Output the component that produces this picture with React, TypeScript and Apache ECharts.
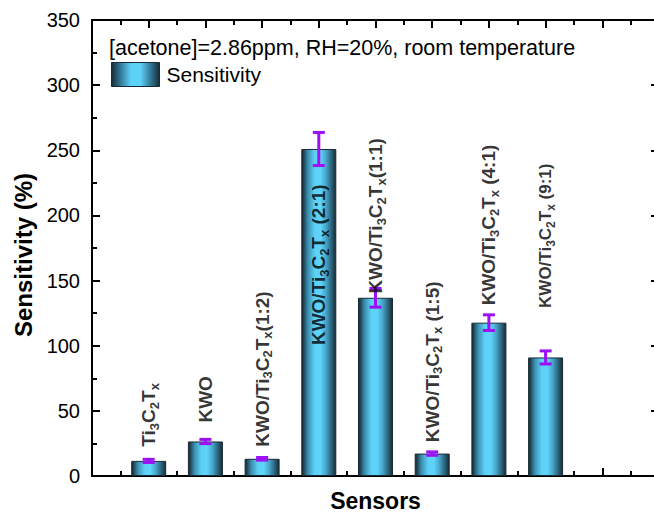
import React, { useEffect, useRef } from "react";
import * as echarts from "echarts";

// ---------- data ----------
const sensors = [
  "Ti3C2Tx",
  "KWO",
  "KWO/Ti3C2Tx(1:2)",
  "KWO/Ti3C2Tx (2:1)",
  "KWO/Ti3C2Tx(1:1)",
  "KWO/Ti3C2Tx (1:5)",
  "KWO/Ti3C2Tx (4:1)",
  "KWO/Ti3C2Tx (9:1)",
];
const sensitivity = [11.6, 26.5, 13.2, 251, 136.8, 17.2, 117.7, 91];
const sensitivityErr = [1.2, 1.6, 1.0, 12.7, 7.2, 1.3, 6.0, 5.0];
// where each rotated category label starts (value units)
const labelAnchors = [22.5, 41, 22.5, 100.5, 140, 26, 131, 129];
const yTicks = [0, 50, 100, 150, 200, 250, 300, 350];
const titleText = "[acetone]=2.86ppm, RH=20%, room temperature";
const seriesName = "Sensitivity";

const FONT = "'Liberation Sans', Arial, sans-serif";
const PURPLE = "#9b10f5";

// turn "KWO/Ti3C2Tx(1:2)" into rich text with subscripts
function toRich(label: string, m: string, s: string): string {
  const re = /(Ti)(3)(C)(2)(T)(x)/;
  const match = label.match(re);
  if (!match) return `{${m}|${label}}`;
  const idx = match.index as number;
  const before = label.slice(0, idx);
  const after = label.slice(idx + match[0].length);
  const parts: string[] = [];
  parts.push(`{${m}|${before}Ti}`);
  parts.push(`{${s}|3}`);
  parts.push(`{${m}|C}`);
  parts.push(`{${s}|2}`);
  parts.push(`{${m}|T}`);
  parts.push(`{${s}|x}`);
  if (after) parts.push(`{${m}|${after}}`);
  return parts.join("");
}

export default function App() {
  const ref = useRef<HTMLDivElement>(null);

  useEffect(() => {
    if (!ref.current) return;
    const chart = echarts.init(ref.current, null, { renderer: "svg" });

    const barGradient = new echarts.graphic.LinearGradient(1, 0, 0, 0, [
      { offset: 0, color: "#172a33" },
      { offset: 0.1, color: "#25576d" },
      { offset: 0.3, color: "#48a9cd" },
      { offset: 0.45, color: "#5fd3fa" },
      { offset: 0.62, color: "#5dd0f6" },
      { offset: 0.82, color: "#3b8fb0" },
      { offset: 0.95, color: "#1f4150" },
      { offset: 1, color: "#162831" },
    ]);
    const legendGradient = new echarts.graphic.LinearGradient(0, 0, 1, 0, [
      { offset: 0, color: "#172a33" },
      { offset: 0.15, color: "#2c6a85" },
      { offset: 0.4, color: "#5ccff6" },
      { offset: 0.6, color: "#5fd3fa" },
      { offset: 0.85, color: "#2c6a85" },
      { offset: 1, color: "#172a33" },
    ]);

    const barData = sensitivity.map((v, i) => [i + 1, v]);
    const errData = sensitivity.map((v, i) => [i + 1, v, sensitivityErr[i]]);
    const labelData = labelAnchors.map((v, i) => ({
      value: [i + 1, v],
      label: {
        formatter: i === 7 ? toRich(sensors[i], "m2", "s2") : toRich(sensors[i], "m", "s"),
      },
    }));

    const axisLine = { show: true, onZero: false, lineStyle: { color: "#000", width: 2 } };
    const tick = { show: true, inside: true, length: 8, lineStyle: { width: 2, color: "#000" } };
    const minor = { show: true, splitNumber: 2, length: 5, lineStyle: { width: 2, color: "#000" } };

    const option: any = {
      animation: false,
      backgroundColor: "#fff",
      title: {
        text: titleText,
        left: 109,
        top: 37,
        padding: 0,
        textStyle: {
          fontFamily: FONT,
          fontSize: 21.5,
          fontWeight: "normal",
          color: "#000",
        },
      },
      legend: {
        data: [
          {
            name: seriesName,
            icon: "rect",
            itemStyle: { color: legendGradient, borderColor: "#1a2a33", borderWidth: 1 },
          },
        ],
        left: 111,
        top: 62,
        padding: 0,
        itemWidth: 48,
        itemHeight: 24,
        textStyle: {
          fontFamily: FONT,
          fontSize: 21,
          color: "#000",
          padding: [0, 0, 0, 2],
        },
      },
      grid: {
        left: 92,
        top: 20,
        width: 567,
        height: 456,
        containLabel: false,
        outerBoundsMode: "none",
      },
      xAxis: [
        {
          type: "value",
          position: "bottom",
          min: 0,
          max: 10,
          interval: 1,
          name: "Sensors",
          nameLocation: "middle",
          nameGap: 14,
          nameTextStyle: {
            fontFamily: FONT,
            fontSize: 23,
            fontWeight: "bold",
            color: "#000",
            lineHeight: 22,
          },
          axisLine,
          axisTick: tick,
          minorTick: minor,
          axisLabel: { show: false },
          splitLine: { show: false },
          minorSplitLine: { show: false },
        },
        {
          type: "value",
          position: "top",
          min: 0,
          max: 10,
          interval: 1,
          axisLine,
          axisTick: tick,
          minorTick: minor,
          axisLabel: { show: false },
          splitLine: { show: false },
        },
      ],
      yAxis: [
        {
          type: "value",
          min: yTicks[0],
          max: yTicks[yTicks.length - 1],
          interval: 50,
          name: "Sensitivity (%)",
          nameLocation: "middle",
          nameGap: 55,
          nameTextStyle: {
            fontFamily: FONT,
            fontSize: 24,
            fontWeight: "bold",
            color: "#000",
            padding: [0, 14, 0, 0],
          },
          axisLine,
          axisTick: tick,
          minorTick: minor,
          axisLabel: {
            fontFamily: FONT,
            fontSize: 20,
            color: "#000",
            margin: 12,
          },
          splitLine: { show: false },
        },
        {
          type: "value",
          position: "right",
          min: yTicks[0],
          max: yTicks[yTicks.length - 1],
          interval: 50,
          axisLine,
          axisTick: tick,
          minorTick: minor,
          axisLabel: { show: false },
          splitLine: { show: false },
        },
      ],
      series: [
        {
          name: seriesName,
          type: "bar",
          xAxisIndex: 0,
          yAxisIndex: 0,
          barWidth: 35,
          data: barData,
          itemStyle: { color: barGradient, borderColor: "#1a2a33", borderWidth: 1 },
          z: 2,
        },
        {
          name: "err",
          type: "custom",
          xAxisIndex: 0,
          yAxisIndex: 0,
          z: 4,
          data: errData,
          renderItem: (params: any, api: any) => {
            const x = api.value(0);
            const v = api.value(1);
            const e = api.value(2);
            const top = api.coord([x, v + e]);
            const bot = api.coord([x, v - e]);
            const hw = 6;
            const st = { stroke: PURPLE, lineWidth: 3 };
            return {
              type: "group",
              children: [
                { type: "line", shape: { x1: top[0], y1: top[1], x2: bot[0], y2: bot[1] }, style: st },
                { type: "line", shape: { x1: top[0] - hw, y1: top[1], x2: top[0] + hw, y2: top[1] }, style: st },
                { type: "line", shape: { x1: bot[0] - hw, y1: bot[1], x2: bot[0] + hw, y2: bot[1] }, style: st },
              ],
            };
          },
        },
        {
          name: "labels",
          type: "scatter",
          xAxisIndex: 0,
          yAxisIndex: 0,
          symbolSize: 0,
          z: 5,
          data: labelData,
          label: {
            show: true,
            position: "inside",
            rotate: 90,
            align: "left",
            verticalAlign: "middle",
            color: "#000",
            rich: {
              m: { fontFamily: FONT, fontSize: 19, fontWeight: "bold", color: "#000", lineHeight: 24 },
              s: {
                fontFamily: FONT,
                fontSize: 13,
                fontWeight: "bold",
                color: "#000",
                lineHeight: 24,
                verticalAlign: "bottom",
              },
              m2: { fontFamily: FONT, fontSize: 17, fontWeight: "bold", color: "#000", lineHeight: 22 },
              s2: {
                fontFamily: FONT,
                fontSize: 12,
                fontWeight: "bold",
                color: "#000",
                lineHeight: 22,
                verticalAlign: "bottom",
              },
            },
          },
          emphasis: { disabled: true },
        },
      ],
    };

    chart.setOption(option);
    return () => chart.dispose();
  }, []);

  return (
    <div
      ref={ref}
      style={{ position: "fixed", left: 0, top: 0, width: 654, height: 513, background: "#fff" }}
    />
  );
}
